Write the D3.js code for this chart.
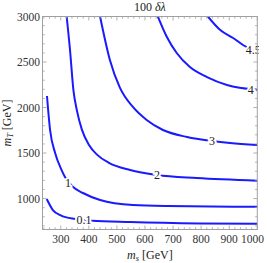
<!DOCTYPE html>
<html>
<head>
<meta charset="utf-8">
<script src="https://cdn.jsdelivr.net/npm/d3@7"></script>
<style>
body{margin:0;background:#fff;}
text{font-family:"Liberation Serif","Times New Roman",serif;}
</style>
</head>
<body>
<div id="chart"></div>
<script>
var W=267, H=263;
var pLeft=42.5, pRight=257.3, pTop=16.5, pBottom=229.5;

// contour lines of 100 dlambda, points read as [m_s, m_T]
var levels=["0.1","1","2","3","4","4.5"];
var c01=[[250,995],[272,874],[300,815],[351,775],[411,757],[547,742],[796,726],[1000,722]];
var c1=[[251,2127],[262,1753],[280,1500],[303,1313],[315,1237],[344,1126],[379,1061],[440,984],[557,929],[678,918],[1000,910]];
var c2=[[321,3000],[333,2632],[345,2193],[358,1960],[375,1760],[400,1590],[430,1480],[470,1395],[547,1313],[643,1258],[785,1225],[1000,1196]];
var c3=[[440,3000],[475,2522],[511,2215],[557,2006],[606,1863],[664,1753],[750,1676],[839,1632],[903,1610],[1000,1588]];
var c4=[[646,3000],[678,2775],[713,2599],[760,2445],[821,2335],[892,2248],[1000,2195]];
var c45=[[824,3000],[868,2852],[914,2764],[949,2687],[1000,2610]];
var contours=[c01,c1,c2,c3,c4,c45];
// where each level label sits
var labelPos=[[383,765],[326,1171],[643,1258],[839,1632],[977,2190],[986,2633]];

var xTicks=[300,400,500,600,700,800,900,1000];
var yTicks=[1000,1500,2000,2500,3000];

var svg=d3.select("#chart").append("svg").attr("width",W).attr("height",H);

var x=d3.scaleLinear().domain([235,1000]).range([pLeft,pRight]);
var y=d3.scaleLinear().domain([660,3000]).range([pBottom,pTop]);

svg.append("clipPath").attr("id","plotclip").append("rect")
	.attr("x",pLeft).attr("y",pTop).attr("width",pRight-pLeft+1.5).attr("height",pBottom-pTop);

var line=d3.line().x(function(d){return x(d[0]);}).y(function(d){return y(d[1]);}).curve(d3.curveMonotoneX);

var plot=svg.append("g").attr("clip-path","url(#plotclip)");
contours.forEach(function(c){
	plot.append("path").attr("d",line(c)).attr("fill","none").attr("stroke","#1a1aff").attr("stroke-width",2);
});
// labels punch a white gap in the line
labelPos.forEach(function(p,i){
	plot.append("text").text(levels[i]).attr("x",x(p[0])).attr("y",y(p[1])+4)
		.attr("text-anchor","middle").attr("font-size",12).attr("fill","#222")
		.attr("stroke","#fff").attr("stroke-width",4).attr("paint-order","stroke");
});

// frame
svg.append("rect").attr("x",pLeft).attr("y",pTop).attr("width",pRight-pLeft).attr("height",pBottom-pTop)
	.attr("fill","none").attr("stroke","#a0a0a0").attr("stroke-width",1);

// ticks on all four sides, pointing in
var tg=svg.append("g").attr("stroke","#a0a0a0").attr("stroke-width",0.8);
d3.range(240,1001,20).forEach(function(v){
	var major=(v%100==0), len=major?4:2.2;
	tg.append("line").attr("x1",x(v)).attr("x2",x(v)).attr("y1",pBottom).attr("y2",pBottom-len);
	tg.append("line").attr("x1",x(v)).attr("x2",x(v)).attr("y1",pTop).attr("y2",pTop+len);
});
d3.range(700,3001,100).forEach(function(v){
	var major=(v%500==0), len=major?4:2.2;
	tg.append("line").attr("y1",y(v)).attr("y2",y(v)).attr("x1",pLeft).attr("x2",pLeft+len);
	tg.append("line").attr("y1",y(v)).attr("y2",y(v)).attr("x1",pRight).attr("x2",pRight-len);
});

xTicks.forEach(function(v,i){
	var last=(i==xTicks.length-1);
	svg.append("text").text(v).attr("x",last?264:x(v)).attr("y",pBottom+13.5)
		.attr("text-anchor",last?"end":"middle").attr("font-size",11.5).attr("fill","#333");
});
yTicks.forEach(function(v){
	svg.append("text").text(v).attr("x",pLeft-2.5).attr("y",y(v)+4)
		.attr("text-anchor","end").attr("font-size",11.5).attr("fill","#333");
});

// title and axis names
var t=svg.append("text").attr("x",(pLeft+pRight)/2).attr("y",11).attr("text-anchor","middle").attr("font-size",12).attr("fill","#222");
t.append("tspan").text("100 ");
t.append("tspan").text("δλ").attr("font-style","italic");

var xl=svg.append("text").attr("x",(pLeft+pRight)/2).attr("y",259).attr("text-anchor","middle").attr("font-size",12).attr("fill","#222");
xl.append("tspan").text("m").attr("font-style","italic");
xl.append("tspan").text("s").attr("font-style","italic").attr("font-size",8.5).attr("dy",2);
xl.append("tspan").text(" [GeV]").attr("dy",-2);

var yl=svg.append("text").attr("transform","translate(11,"+((pTop+pBottom)/2)+") rotate(-90)").attr("text-anchor","middle").attr("font-size",12).attr("fill","#222");
yl.append("tspan").text("m").attr("font-style","italic");
yl.append("tspan").text("T").attr("font-style","italic").attr("font-size",8.5).attr("dy",2);
yl.append("tspan").text(" [GeV]").attr("dy",-2);
</script>
</body>
</html>
